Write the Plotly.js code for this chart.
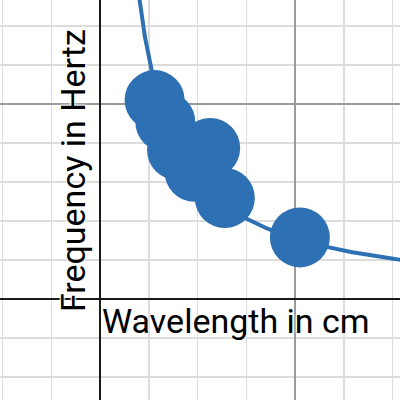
<!DOCTYPE html>
<html>
<head>
<meta charset="utf-8">
<script src="https://cdn.plot.ly/plotly-3.0.1.min.js"></script>
<style>html,body{margin:0;padding:0;background:#fff;}#chart{width:400px;height:400px;}</style>
</head>
<body>
<div id="chart"></div>
<script>
// Measured points: wavelength (cm) and frequency (Hz)
const wavelength = [5.6, 6.7, 7.9, 11.3, 9.7, 12.8, 20.5];
const frequency  = [510, 454, 382, 387, 326, 259, 158];
// Fitted inverse model: frequency = K / wavelength
const K = 3100;
const xTitle = "Wavelength in cm";
const yTitle = "Frequency in Hertz";

const curveX = [];
const curveY = [];
for (let i = 0; i <= 400; i++) {
  const x = 3.9 + i * (31 - 3.9) / 400;
  curveX.push(x);
  curveY.push(K / x);
}

const blue = "#2d70b3";
const halo = "white 0px 0px 2px, white 0px 0px 2px, white 0px 0px 2px, white 0px 0px 3px";

const data = [
  {x: curveX, y: curveY, type: "scatter", mode: "lines",
   line: {color: blue, width: 4}, hoverinfo: "skip"},
  {x: wavelength, y: frequency, type: "scatter", mode: "markers",
   marker: {color: blue, size: 60, line: {width: 0}}}
];

const layout = {
  width: 400, height: 400,
  margin: {l: 0, r: 0, t: 0, b: 0},
  paper_bgcolor: "#fff", plot_bgcolor: "#fff",
  showlegend: false,
  xaxis: {
    range: [-100 / 9.75, 300 / 9.75],
    dtick: 20, tick0: 0, showticklabels: false, ticks: "",
    showgrid: true, gridcolor: "#9a9a9a", gridwidth: 1.5,
    minor: {dtick: 5, tick0: 0, showgrid: true, gridcolor: "#dcdcdc", gridwidth: 1.5, ticks: ""},
    zeroline: true, zerolinecolor: "#1a1a1a", zerolinewidth: 2.5,
    showline: false, fixedrange: true
  },
  yaxis: {
    range: [-101 / 0.39, 299 / 0.39],
    dtick: 500, tick0: 0, showticklabels: false, ticks: "",
    showgrid: true, gridcolor: "#9a9a9a", gridwidth: 1.5,
    minor: {dtick: 100, tick0: 0, showgrid: true, gridcolor: "#dcdcdc", gridwidth: 1.5, ticks: ""},
    zeroline: true, zerolinecolor: "#1a1a1a", zerolinewidth: 2.5,
    showline: false, fixedrange: true
  },
  annotations: [
    {text: xTitle, x: 0, y: 0, xref: "x", yref: "y", xanchor: "left", yanchor: "top",
     showarrow: false, xshift: 0, yshift: 0,
     font: {family: "Roboto", size: 34, color: "#000", shadow: halo}},
    {text: yTitle, x: 0, y: 328, xref: "x", yref: "y", xanchor: "right", yanchor: "middle",
     textangle: -90, showarrow: false, xshift: -5,
     font: {family: "Roboto", size: 34, color: "#000", shadow: halo}}
  ]
};

Plotly.newPlot("chart", data, layout, {displayModeBar: false, staticPlot: true});
</script>
</body>
</html>
